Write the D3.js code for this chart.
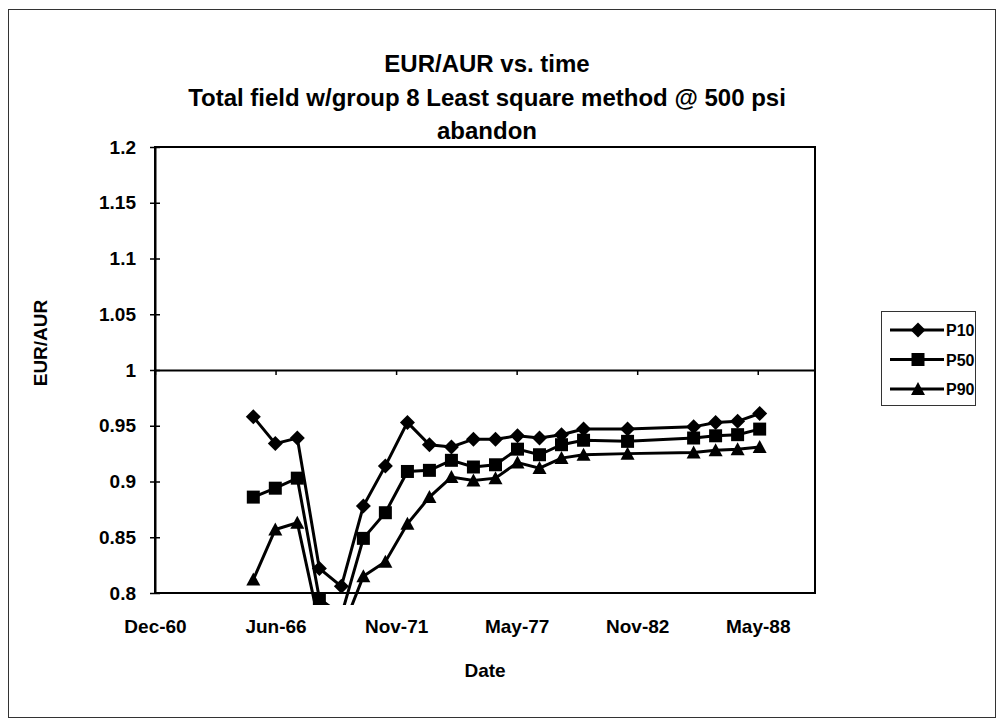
<!DOCTYPE html>
<html>
<head>
<meta charset="utf-8">
<script src="https://cdn.jsdelivr.net/npm/d3@7"></script>
<style>
  body { margin: 0; background: #fff; }
  svg { display: block; font-family: "Liberation Sans", Arial, sans-serif; font-weight: bold; }
</style>
</head>
<body>
<svg width="1002" height="725"></svg>
<script>
// values (one point per year, June)
var dates = ["1965-06-01", "1966-06-01", "1967-06-01", "1968-06-01", "1969-06-01",
  "1970-06-01", "1971-06-01", "1972-06-01", "1973-06-01", "1974-06-01",
  "1975-06-01", "1976-06-01", "1977-06-01", "1978-06-01", "1979-06-01",
  "1980-06-01", "1982-06-01", "1985-06-01", "1986-06-01", "1987-06-01", "1988-06-01"]
var p10 = [0.958, 0.934, 0.939, 0.822, 0.806, 0.878, 0.914, 0.953, 0.933, 0.931,
  0.938, 0.938, 0.941, 0.939, 0.942, 0.947, 0.947, 0.949, 0.953, 0.954, 0.961]
var p50 = [0.886, 0.894, 0.903, 0.795, 0.780, 0.849, 0.872, 0.909, 0.910, 0.919,
  0.913, 0.915, 0.929, 0.924, 0.933, 0.937, 0.936, 0.939, 0.941, 0.942, 0.947]
var p90 = [0.812, 0.857, 0.863, 0.772, 0.765, 0.815, 0.828, 0.862, 0.886, 0.904,
  0.901, 0.903, 0.917, 0.912, 0.921, 0.924, 0.925, 0.926, 0.928, 0.929, 0.931]
var seriesNames = ["P10", "P50", "P90"]
var yTicks = [0.8, 0.85, 0.9, 0.95, 1, 1.05, 1.1, 1.15, 1.2]
var xTickLabels = ["Dec-60", "Jun-66", "Nov-71", "May-77", "Nov-82", "May-88"]
var titleLines = ["EUR/AUR vs. time", "Total field w/group 8 Least square method @ 500 psi", "abandon"]

var svg = d3.select("svg")
var parse = d3.timeParse("%Y-%m-%d")

// excel-style date axis: 2000 day major unit
var axisStart = parse("1960-12-13")
var xTickDates = xTickLabels.map((l, i) => d3.timeDay.offset(axisStart, 2000 * i))

var plotL = 155, plotR = 815, plotT = 147, plotB = 593

var x = d3.scaleTime()
  .domain([axisStart, d3.timeDay.offset(axisStart, 10950)])
  .range([plotL, plotR])
var y = d3.scaleLinear().domain([0.8, 1.2]).range([plotB, plotT])

// outer chart frame
svg.append("rect")
  .attr("x", 8.5).attr("y", 9.5).attr("width", 987).attr("height", 708)
  .attr("fill", "none").attr("stroke", "#333").attr("stroke-width", 1)

// title
svg.append("g").selectAll("text")
  .data(titleLines)
  .enter().append("text")
  .attr("x", 487)
  .attr("y", (d, i) => 72 + i * 33.5)
  .attr("text-anchor", "middle")
  .style("font-size", "24px")
  .text(d => d)

// plot area border
svg.append("rect")
  .attr("x", plotL).attr("y", plotT).attr("width", plotR - plotL).attr("height", plotB - plotT)
  .attr("fill", "none").attr("stroke", "#000").attr("stroke-width", 2)

// y axis
var yAxis = svg.append("g")
  .attr("transform", "translate(" + plotL + ",0)")
  .call(d3.axisLeft(y).tickValues(yTicks).tickSize(5).tickSizeOuter(0).tickPadding(14)
    .tickFormat(d3.format("")))
yAxis.select(".domain").attr("stroke-width", 2)
yAxis.selectAll(".tick line").attr("x2", 5).attr("x1", -5).attr("stroke-width", 1.5)
yAxis.selectAll("text").style("font-size", "19px").attr("font-family", null).attr("font-weight", "bold")

// x axis crosses at 1.0, labels sit low
var xAxis = svg.append("g")
  .attr("transform", "translate(0," + y(1) + ")")
  .call(d3.axisBottom(x).tickValues(xTickDates).tickSize(5).tickSizeOuter(0)
    .tickFormat((d, i) => xTickLabels[i]))
xAxis.select(".domain").attr("stroke-width", 2)
xAxis.selectAll(".tick line").attr("stroke-width", 1.5)
xAxis.selectAll("text")
  .attr("y", plotB - y(1) + 40)
  .attr("dy", null)
  .style("font-size", "19px").attr("font-family", null).attr("font-weight", "bold")

// axis titles
svg.append("text")
  .attr("x", 485).attr("y", 677)
  .attr("text-anchor", "middle")
  .style("font-size", "19px")
  .text("Date")
svg.append("text")
  .attr("transform", "translate(47,343) rotate(-90)")
  .attr("text-anchor", "middle")
  .style("font-size", "19px")
  .text("EUR/AUR")

// clip slightly past the bottom, like the scan shows
svg.append("clipPath").attr("id", "plotclip")
  .append("rect").attr("x", plotL).attr("y", plotT).attr("width", plotR - plotL).attr("height", plotB - plotT + 12)

var markers = {
  P10: "M0,-7.5L7.5,0L0,7.5L-7.5,0Z",
  P50: "M-6.5,-6.5H6.5V6.5H-6.5Z",
  P90: "M0,-7L7,6H-7Z"
}

var series = [
  { name: seriesNames[0], values: p10 },
  { name: seriesNames[1], values: p50 },
  { name: seriesNames[2], values: p90 }
]

var line = d3.line()
  .x((d, i) => x(parse(dates[i])))
  .y(d => y(d))

var plot = svg.append("g").attr("clip-path", "url(#plotclip)")

series.forEach(s => {
  plot.append("path")
    .attr("d", line(s.values))
    .attr("fill", "none")
    .attr("stroke", "#000")
    .attr("stroke-width", 3)
  plot.selectAll(".m-" + s.name)
    .data(s.values)
    .enter().append("path")
    .attr("transform", (d, i) => "translate(" + x(parse(dates[i])) + "," + y(d) + ")")
    .attr("d", markers[s.name])
    .attr("fill", "#000")
})

// legend
var legend = svg.append("g")
legend.append("rect")
  .attr("x", 881.5).attr("y", 311.5).attr("width", 94).attr("height", 94)
  .attr("fill", "#fff").attr("stroke", "#333").attr("stroke-width", 1)
series.forEach((s, i) => {
  var ly = 330 + i * 29.5
  legend.append("line")
    .attr("x1", 890).attr("x2", 944).attr("y1", ly).attr("y2", ly)
    .attr("stroke", "#000").attr("stroke-width", 3)
  legend.append("path")
    .attr("transform", "translate(918," + ly + ")")
    .attr("d", markers[s.name])
  legend.append("text")
    .attr("x", 946).attr("y", ly + 6)
    .style("font-size", "16px")
    .text(s.name)
})
</script>
</body>
</html>
